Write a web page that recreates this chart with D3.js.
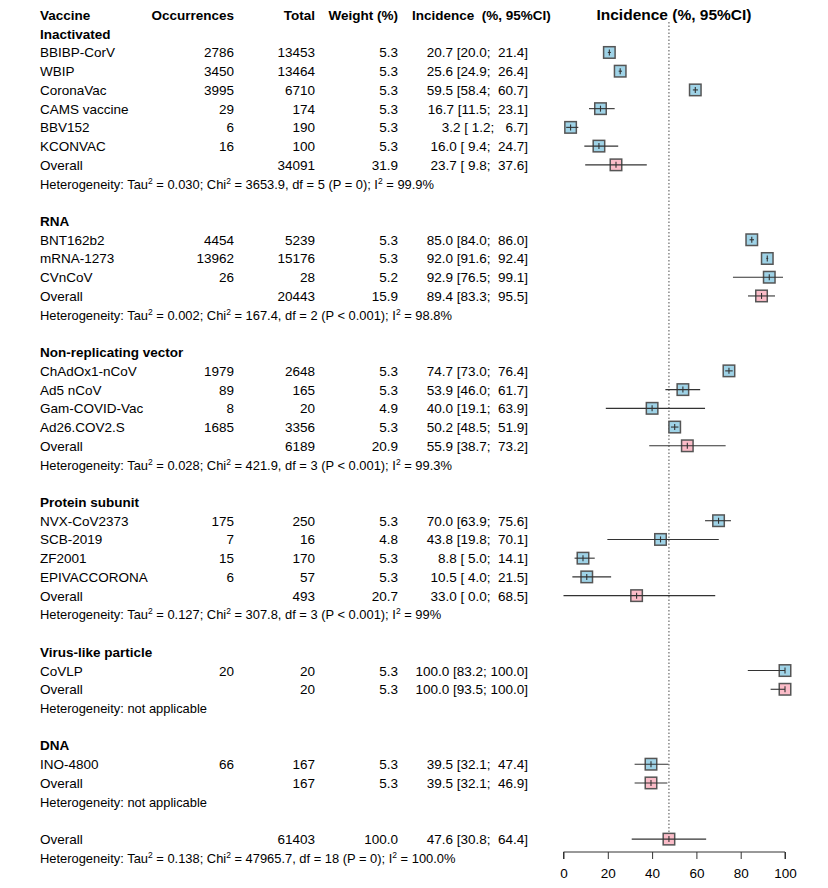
<!DOCTYPE html>
<html>
<head>
<meta charset="utf-8">
<script src="https://cdn.jsdelivr.net/npm/d3@7"></script>
<style>
  body { margin: 0; background: #fff; }
  svg text { font-family: "Liberation Sans", Arial, sans-serif; font-size: 13.5px; fill: #000; white-space: pre; }
  .bold { font-weight: bold; }
  .het { font-size: 12.9px; }
</style>
</head>
<body>
<div id="chart"></div>
<script>
// Subgroups in display order
const groupNames = ["Inactivated", "RNA", "Non-replicating vector", "Protein subunit", "Virus-like particle", "DNA"];

// [group, vaccine, occurrences, total, weight, incidence, lower, upper]
const studyRows = [
  ["Inactivated", "BBIBP-CorV", 2786, 13453, 5.3, 20.7, 20.0, 21.4],
  ["Inactivated", "WBIP", 3450, 13464, 5.3, 25.6, 24.9, 26.4],
  ["Inactivated", "CoronaVac", 3995, 6710, 5.3, 59.5, 58.4, 60.7],
  ["Inactivated", "CAMS vaccine", 29, 174, 5.3, 16.7, 11.5, 23.1],
  ["Inactivated", "BBV152", 6, 190, 5.3, 3.2, 1.2, 6.7],
  ["Inactivated", "KCONVAC", 16, 100, 5.3, 16.0, 9.4, 24.7],
  ["RNA", "BNT162b2", 4454, 5239, 5.3, 85.0, 84.0, 86.0],
  ["RNA", "mRNA-1273", 13962, 15176, 5.3, 92.0, 91.6, 92.4],
  ["RNA", "CVnCoV", 26, 28, 5.2, 92.9, 76.5, 99.1],
  ["Non-replicating vector", "ChAdOx1-nCoV", 1979, 2648, 5.3, 74.7, 73.0, 76.4],
  ["Non-replicating vector", "Ad5 nCoV", 89, 165, 5.3, 53.9, 46.0, 61.7],
  ["Non-replicating vector", "Gam-COVID-Vac", 8, 20, 4.9, 40.0, 19.1, 63.9],
  ["Non-replicating vector", "Ad26.COV2.S", 1685, 3356, 5.3, 50.2, 48.5, 51.9],
  ["Protein subunit", "NVX-CoV2373", 175, 250, 5.3, 70.0, 63.9, 75.6],
  ["Protein subunit", "SCB-2019", 7, 16, 4.8, 43.8, 19.8, 70.1],
  ["Protein subunit", "ZF2001", 15, 170, 5.3, 8.8, 5.0, 14.1],
  ["Protein subunit", "EPIVACCORONA", 6, 57, 5.3, 10.5, 4.0, 21.5],
  ["Virus-like particle", "CoVLP", 20, 20, 5.3, 100.0, 83.2, 100.0],
  ["DNA", "INO-4800", 66, 167, 5.3, 39.5, 32.1, 47.4]
];

// [total, weight, incidence, lower, upper] per subgroup
const subgroupOverall = [
  [34091, 31.9, 23.7, 9.8, 37.6],
  [20443, 15.9, 89.4, 83.3, 95.5],
  [6189, 20.9, 55.9, 38.7, 73.2],
  [493, 20.7, 33.0, 0.0, 68.5],
  [20, 5.3, 100.0, 93.5, 100.0],
  [167, 5.3, 39.5, 32.1, 46.9]
];

// [tau2, chi2, df, p, I2] per subgroup, null = not applicable
const heterogeneity = [
  ["0.030", "3653.9", 5, "P = 0", "99.9%"],
  ["0.002", "167.4", 2, "P < 0.001", "98.8%"],
  ["0.028", "421.9", 3, "P < 0.001", "99.3%"],
  ["0.127", "307.8", 3, "P < 0.001", "99%"],
  null,
  null
];

const totalOverall = [61403, 100.0, 47.6, 30.8, 64.4];
const totalHeterogeneity = ["0.138", "47965.7", 18, "P = 0", "100.0%"];
const xTicks = [0, 20, 40, 60, 80, 100];

const width = 828, height = 888;
const rowTop = 15, rowStep = 18.73;
const col = { label: 40, occ: 234, total: 315, weight: 398, inc: 528 };

const svg = d3.select("#chart").append("svg")
  .attr("width", width).attr("height", height);

const x = d3.scaleLinear().domain([0, 100]).range([563.5, 785]);
const rowY = (i) => rowTop + i * rowStep;

// Build row list
const rows = [];
groupNames.forEach((g, gi) => {
  rows.push({ type: "group", label: g });
  studyRows.filter((s) => s[0] === g).forEach((s) => {
    rows.push({ type: "study", label: s[1], occ: s[2], total: s[3], weight: s[4], est: s[5], lo: s[6], hi: s[7] });
  });
  const o = subgroupOverall[gi];
  rows.push({ type: "overall", label: "Overall", total: o[0], weight: o[1], est: o[2], lo: o[3], hi: o[4] });
  rows.push({ type: "het", het: heterogeneity[gi] });
  rows.push({ type: "blank" });
});
const o = totalOverall;
rows.push({ type: "overall", label: "Overall", total: o[0], weight: o[1], est: o[2], lo: o[3], hi: o[4] });
rows.push({ type: "het", het: totalHeterogeneity });

const pad = (s, n) => " ".repeat(Math.max(0, n - s.length)) + s;
const fmtCI = (d) => `${d.est.toFixed(1)} [${pad(d.lo.toFixed(1), 4)}; ${pad(d.hi.toFixed(1), 5)}]`;

// Header
const head = svg.append("g");
const hy = rowY(0) + 5;
head.append("text").attr("class", "bold").attr("x", col.label).attr("y", hy).text("Vaccine");
head.append("text").attr("class", "bold").attr("x", col.occ).attr("y", hy).attr("text-anchor", "end").text("Occurrences");
head.append("text").attr("class", "bold").attr("x", col.total).attr("y", hy).attr("text-anchor", "end").text("Total");
head.append("text").attr("class", "bold").attr("x", col.weight).attr("y", hy).attr("text-anchor", "end").text("Weight (%)");
head.append("text").attr("class", "bold").attr("x", 412).attr("y", hy).text("Incidence  (%, 95%CI)");
head.append("text").attr("class", "bold").attr("x", 674).attr("y", hy).attr("text-anchor", "middle")
  .style("font-size", "15.5px").text("Incidence (%, 95%CI)");

// Reference line at overall estimate
svg.append("line")
  .attr("x1", x(totalOverall[2])).attr("x2", x(totalOverall[2]))
  .attr("y1", 22).attr("y2", rowY(44) + 6)
  .attr("stroke", "#777").attr("stroke-width", 1.3)
  .attr("stroke-dasharray", "1.5,2");

const tbl = svg.append("g");
const marks = svg.append("g");

function hetText(sel, h, tx, ty) {
  const t = sel.append("text").attr("class", "het").attr("x", tx).attr("y", ty);
  if (!h) { t.text("Heterogeneity: not applicable"); return t; }
  const sup = (txt) => {
    t.append("tspan").attr("dy", -5).style("font-size", "8.5px").text("2");
    t.append("tspan").attr("dy", 5).text(txt);
  };
  t.append("tspan").text("Heterogeneity: Tau");
  sup(` = ${h[0]}; Chi`);
  sup(` = ${h[1]}, df = ${h[2]} (${h[3]}); I`);
  sup(` = ${h[4]}`);
  return t;
}

rows.forEach((d, i) => {
  // header row is row 0
  const y = rowY(i + 1);
  const ty = y + 5;
  if (d.type === "group") {
    tbl.append("text").attr("class", "bold").attr("x", col.label).attr("y", ty).text(d.label);
  } else if (d.type === "study" || d.type === "overall") {
    tbl.append("text").attr("x", col.label).attr("y", ty).text(d.label);
    if (d.type === "study")
      tbl.append("text").attr("x", col.occ).attr("y", ty).attr("text-anchor", "end").text(d.occ);
    tbl.append("text").attr("x", col.total).attr("y", ty).attr("text-anchor", "end").text(d.total);
    tbl.append("text").attr("x", col.weight).attr("y", ty).attr("text-anchor", "end").text(d.weight.toFixed(1));
    tbl.append("text").attr("x", col.inc).attr("y", ty).attr("text-anchor", "end").text(fmtCI(d));

    const s = 11.5;
    marks.append("rect")
      .attr("x", x(d.est) - s / 2).attr("y", y - s / 2)
      .attr("width", s).attr("height", s)
      .attr("fill", d.type === "study" ? "#9fd3e7" : "#fbbcc8")
      .attr("stroke", "#555").attr("stroke-width", 1.5);
    marks.append("line")
      .attr("x1", x(d.lo)).attr("x2", x(d.hi)).attr("y1", y).attr("y2", y)
      .attr("stroke", "#333").attr("stroke-width", 1.1);
    marks.append("line")
      .attr("x1", x(d.est)).attr("x2", x(d.est)).attr("y1", y - 3).attr("y2", y + 3)
      .attr("stroke", "#333").attr("stroke-width", 1.1);
  } else if (d.type === "het") {
    hetText(tbl, d.het, col.label, ty);
  }
});

// X axis
const axisY = 852;
const axis = svg.append("g")
  .attr("transform", `translate(0,${axisY})`)
  .call(d3.axisBottom(x).tickValues(xTicks).tickSize(7).tickPadding(9).tickFormat(d3.format("d")));
axis.select(".domain").attr("stroke", "#333").attr("d", `M${x(0)},7V0H${x(100)}V7`);
axis.selectAll(".tick line").attr("stroke", "#333");
axis.selectAll(".tick text").style("font-family", '"Liberation Sans", Arial, sans-serif').style("font-size", "13.5px").attr("fill", "#000");
</script>
</body>
</html>
